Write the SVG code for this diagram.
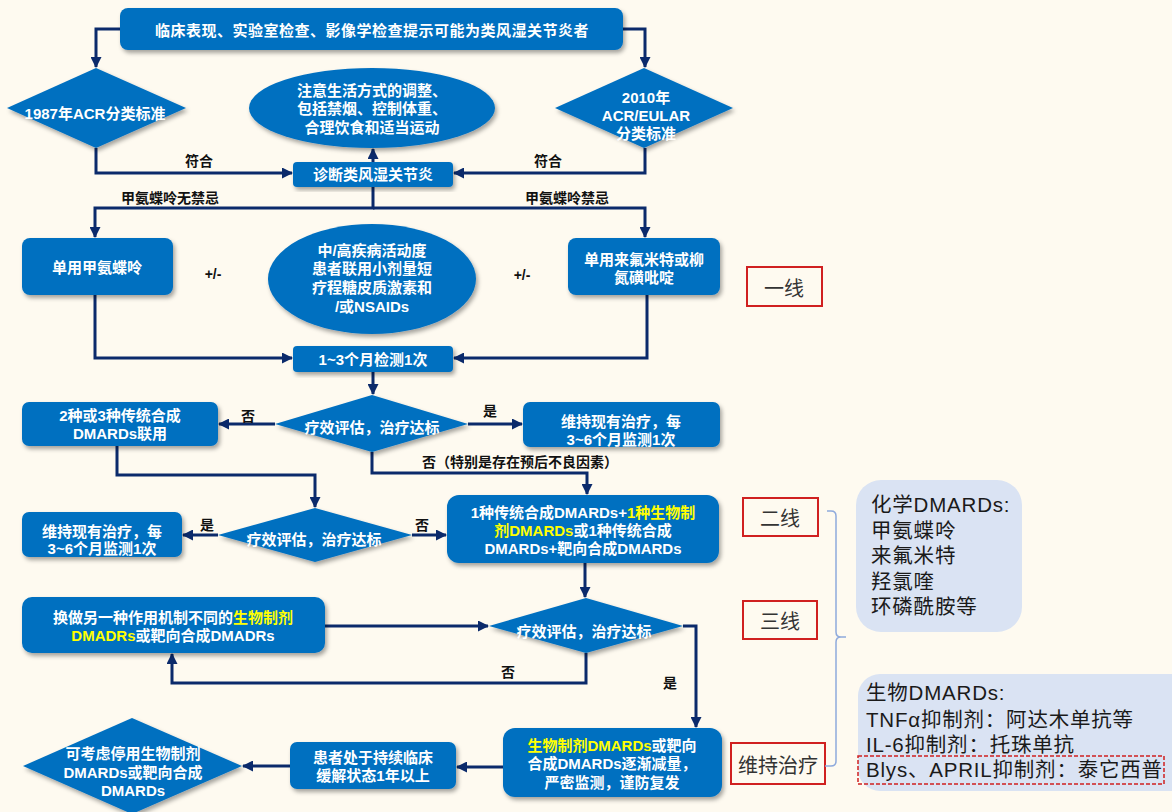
<svg xmlns="http://www.w3.org/2000/svg" width="1172" height="812" viewBox="0 0 1172 812">
<style>
.n{fill:#0070C0;filter:url(#sh)}
.t{fill:#fff;font-family:"Liberation Sans","Noto Sans CJK SC",sans-serif;font-weight:bold;font-size:15px;text-anchor:middle;dominant-baseline:central}
.y{fill:#FFFF00}
.c{fill:none;stroke:#0B2A6B;stroke-width:3}
.a{marker-end:url(#ar)}
.l{fill:#111;font-family:"Liberation Sans","Noto Sans CJK SC",sans-serif;font-weight:bold;font-size:14px;text-anchor:middle;dominant-baseline:central}
.r{fill:none;stroke:#D02020;stroke-width:2}
.rt{fill:#333;font-family:"Noto Sans CJK SC",sans-serif;font-size:20px;text-anchor:middle;dominant-baseline:central}
.sb{fill:#DAE3F3}
.st{fill:#1a1a1a;font-family:"Liberation Sans","Noto Sans CJK SC",sans-serif;font-size:20.5px;letter-spacing:0.8px}
.br{fill:none;stroke:#8FAADC;stroke-width:1.5}
</style>
<defs>
<marker id="ar" markerUnits="userSpaceOnUse" markerWidth="12" markerHeight="11" refX="10" refY="5.5" orient="auto">
<path d="M0,0 L11,5.5 L0,11 z" fill="#0B2A6B"/>
</marker>
<filter id="sh" x="-10%" y="-10%" width="125%" height="130%">
<feDropShadow dx="2" dy="3" stdDeviation="2" flood-color="#000" flood-opacity="0.35"/>
</filter>
</defs>
<rect width="1172" height="812" fill="#FEFAF0"/>

<g id="connectors">
<path class="c a" d="M120,29 H96 V67"/>
<path class="c a" d="M623,29 H645 V67"/>
<path class="c a" d="M96,148 V173 H292"/>
<path class="c a" d="M645,148 V173 H454"/>
<path class="c a" d="M373,162 V149"/>
<path class="c a" d="M373,187 V208 H95 V237"/>
<path class="c a" d="M373,208 H645 V237"/>
<path class="c a" d="M95,295 V358 H292"/>
<path class="c a" d="M647,295 V358 H454"/>
<path class="c a" d="M373,372 V394"/>
<path class="c a" d="M275,424 H219"/>
<path class="c a" d="M468,424 H522"/>
<path class="c a" d="M372,452 V473 H587 V494"/>
<path class="c a" d="M117,446 V475 H315 V507"/>
<path class="c a" d="M218,535 H183"/>
<path class="c a" d="M412,535 H446"/>
<path class="c a" d="M585,563 V597"/>
<path class="c a" d="M325,626 H488"/>
<path class="c a" d="M586,653 V683 H172 V654"/>
<path class="c a" d="M683,626 H696 V727"/>
<path class="c a" d="M503,767 H457"/>
<path class="c a" d="M290,766 H243"/>
<text class="l" x="199" y="161">符合</text>
<text class="l" x="548" y="161">符合</text>
<text class="l" x="170" y="198">甲氨蝶呤无禁忌</text>
<text class="l" x="567" y="198">甲氨蝶呤禁忌</text>
<text class="l" x="213" y="274">+/-</text>
<text class="l" x="522" y="275">+/-</text>
<text class="l" x="248" y="416">否</text>
<text class="l" x="490" y="411">是</text>
<text class="l" x="520" y="462">否（特别是存在预后不良因素）</text>
<text class="l" x="207" y="525">是</text>
<text class="l" x="422" y="525">否</text>
<text class="l" x="508" y="672">否</text>
<text class="l" x="670" y="683">是</text>
</g>

<g id="n-top"><rect class="n" x="120" y="8" width="503" height="42" rx="8"/>
<text class="t" x="372" y="30" letter-spacing="0.5">临床表现、实验室检查、影像学检查提示可能为类风湿关节炎者</text></g>

<g id="n-acr1987"><polygon class="n" points="7,108 96,68 186,108 96,148"/>
<text class="t" x="95" y="113" font-size="14">1987年ACR分类标准</text></g>

<g id="n-acr2010"><polygon class="n" points="555,108 644,68 733,108 644,148"/>
<text class="t" x="646" y="97">2010年</text>
<text class="t" x="646" y="115">ACR/EULAR</text>
<text class="t" x="646" y="133">分类标准</text></g>

<g id="n-life"><ellipse class="n" cx="372" cy="108" rx="123" ry="40"/>
<text class="t" x="372" y="90">注意生活方式的调整、</text>
<text class="t" x="372" y="108">包括禁烟、控制体重、</text>
<text class="t" x="372" y="127">合理饮食和适当运动</text></g>

<g id="n-diag"><rect class="n" x="293" y="162" width="160" height="25" rx="4"/>
<text class="t" x="373" y="174">诊断类风湿关节炎</text></g>

<g id="n-mtx"><rect class="n" x="22" y="238" width="151" height="57" rx="8"/>
<text class="t" x="97" y="267">单用甲氨蝶呤</text></g>

<g id="n-gc"><ellipse class="n" cx="372" cy="279" rx="104" ry="55"/>
<text class="t" x="372" y="250">中/高疾病活动度</text>
<text class="t" x="372" y="268">患者联用小剂量短</text>
<text class="t" x="372" y="287">疗程糖皮质激素和</text>
<text class="t" x="372" y="306">/或NSAIDs</text></g>

<g id="n-lef"><rect class="n" x="568" y="238" width="152" height="57" rx="8"/>
<text class="t" x="644" y="259">单用来氟米特或柳</text>
<text class="t" x="644" y="277">氮磺吡啶</text></g>

<g id="n-mon1"><rect class="n" x="293" y="346" width="160" height="26" rx="4"/>
<text class="t" x="373" y="359">1~3个月检测1次</text></g>

<g id="n-eval1"><polygon class="n" points="275,424 372,395 468,424 372,452"/>
<text class="t" x="372" y="427">疗效评估，治疗达标</text></g>

<g id="n-combo"><rect class="n" x="22" y="402" width="196" height="44" rx="7"/>
<text class="t" x="120" y="415">2种或3种传统合成</text>
<text class="t" x="120" y="433">DMARDs联用</text></g>

<g id="n-keep1"><rect class="n" x="523" y="402" width="197" height="45" rx="7"/>
<text class="t" x="621" y="421">维持现有治疗，每</text>
<text class="t" x="621" y="439">3~6个月监测1次</text></g>

<g id="n-eval2"><polygon class="n" points="218,535 315,508 412,535 315,562"/>
<text class="t" x="314" y="539">疗效评估，治疗达标</text></g>

<g id="n-keep2"><rect class="n" x="22" y="512" width="160" height="45" rx="7"/>
<text class="t" x="102" y="531">维持现有治疗，每</text>
<text class="t" x="102" y="548">3~6个月监测1次</text></g>

<g id="n-bio"><rect class="n" x="447" y="495" width="272" height="68" rx="12"/>
<text class="t" x="583" y="512">1种传统合成DMARDs+<tspan class="y">1种生物制</tspan></text>
<text class="t" x="583" y="530"><tspan class="y">剂DMARDs</tspan>或1种传统合成</text>
<text class="t" x="583" y="548">DMARDs+靶向合成DMARDs</text></g>

<g id="n-eval3"><polygon class="n" points="489,626 586,598 683,626 586,653"/>
<text class="t" x="584" y="631">疗效评估，治疗达标</text></g>

<g id="n-switch"><rect class="n" x="22" y="597" width="303" height="56" rx="10"/>
<text class="t" x="173" y="617">换做另一种作用机制不同的<tspan class="y">生物制剂</tspan></text>
<text class="t" x="173" y="635"><tspan class="y">DMADRs</tspan>或靶向合成DMADRs</text></g>

<g id="n-taper"><rect class="n" x="503" y="728" width="219" height="69" rx="12"/>
<text class="t" x="612" y="745"><tspan class="y">生物制剂DMARDs</tspan>或靶向</text>
<text class="t" x="612" y="763">合成DMARDs逐渐减量，</text>
<text class="t" x="612" y="782">严密监测，谨防复发</text></g>

<g id="n-remit"><rect class="n" x="290" y="742" width="166" height="47" rx="7"/>
<text class="t" x="373" y="757">患者处于持续临床</text>
<text class="t" x="373" y="775">缓解状态1年以上</text></g>

<g id="n-stop"><polygon class="n" points="23,766 132,718 242,766 132,814"/>
<text class="t" x="133" y="753">可考虑停用生物制剂</text>
<text class="t" x="133" y="772">DMARDs或靶向合成</text>
<text class="t" x="133" y="790">DMARDs</text></g>

<g id="lbl-1"><rect class="r" x="747" y="267" width="75" height="39"/><text class="rt" x="784" y="287">一线</text></g>
<g id="lbl-2"><rect class="r" x="743" y="498" width="75" height="38"/><text class="rt" x="780" y="517">二线</text></g>
<g id="lbl-3"><rect class="r" x="743" y="601" width="74" height="38"/><text class="rt" x="780" y="620">三线</text></g>
<g id="lbl-4"><rect class="r" x="731" y="743" width="94" height="41"/><text class="rt" x="778" y="764">维持治疗</text></g>

<g id="brace"><path class="br" d="M827,511 H831 Q836,511 836,516 V632 Q836,637 841,637 H846 M841,637 Q836,637 836,642 V761 Q836,766 831,766 H825"/></g>

<g id="chem"><rect class="sb" x="856" y="480" width="166" height="152" rx="25"/>
<text class="st" x="871" y="512">化学DMARDs:</text>
<text class="st" x="871" y="538">甲氨蝶呤</text>
<text class="st" x="871" y="563">来氟米特</text>
<text class="st" x="871" y="589">羟氯喹</text>
<text class="st" x="871" y="614">环磷酰胺等</text></g>

<g id="biol"><rect class="sb" x="858" y="674" width="340" height="117" rx="22"/>
<text class="st" x="866" y="700">生物DMARDs:</text>
<text class="st" x="866" y="727">TNFα抑制剂：阿达木单抗等</text>
<text class="st" x="866" y="752">IL-6抑制剂：托珠单抗</text>
<text class="st" x="866" y="777">Blys、APRIL抑制剂：泰它西普</text>
<rect x="858" y="756" width="306" height="28" fill="none" stroke="#D02020" stroke-width="1.5" stroke-dasharray="4,2"/></g>
</svg>
